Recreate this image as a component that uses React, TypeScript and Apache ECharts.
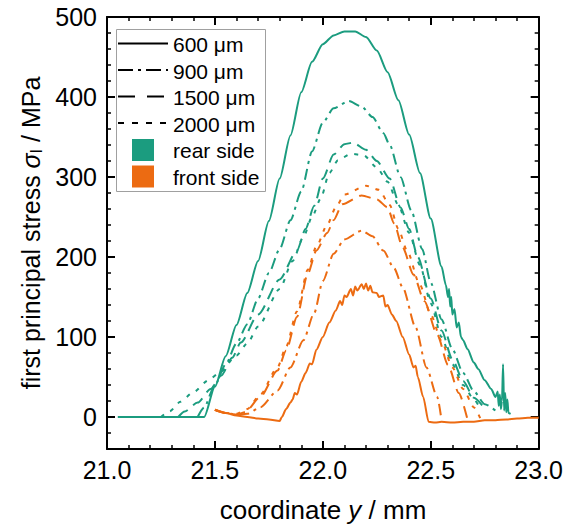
import React, { useEffect, useRef } from "react";
import * as echarts from "echarts";

// ---------- data (coordinate y in mm, first principal stress in MPa) ----------
const xTicks = [21.0, 21.5, 22.0, 22.5, 23.0];
const yMajorTicks = [0, 100, 200, 300, 400, 500];

const rear600: number[][] = [
  [21.05, 0], [21.2, 0], [21.35, 0], [21.45, 0], [21.5, 38], [21.55, 76], [21.6, 115],
  [21.65, 155], [21.7, 195], [21.75, 245], [21.8, 298], [21.85, 352], [21.9, 406],
  [21.95, 444], [22.0, 466], [22.05, 477], [22.1, 482], [22.15, 482], [22.2, 475],
  [22.25, 458], [22.3, 431], [22.35, 396], [22.4, 353], [22.45, 305], [22.5, 248],
  [22.55, 188], [22.57, 165], [22.58, 150], [22.585, 160], [22.59, 138], [22.595, 150],
  [22.6, 128], [22.61, 135], [22.62, 112], [22.63, 118], [22.64, 100], [22.65, 96],
  [22.67, 85], [22.7, 68], [22.72, 60], [22.75, 46], [22.78, 35], [22.8, 25], [22.81, 32],
  [22.815, 14], [22.82, 28], [22.825, 10], [22.83, 20], [22.835, 66], [22.84, 8],
  [22.845, 30], [22.85, 6], [22.855, 22], [22.86, 5], [22.87, 4],
];
const rear900: number[][] = [
  [21.42, 0], [21.45, 12], [21.5, 40], [21.55, 66], [21.6, 92], [21.65, 116], [21.7, 148],
  [21.75, 180], [21.8, 210], [21.85, 246], [21.9, 282], [21.95, 332], [22.0, 368],
  [22.05, 386], [22.12, 395], [22.18, 388], [22.23, 375], [22.28, 355], [22.31, 340],
  [22.36, 300], [22.41, 258], [22.46, 210], [22.5, 168], [22.55, 122], [22.6, 85],
  [22.65, 55], [22.7, 32], [22.75, 16], [22.8, 8],
];
const rear1500: number[][] = [
  [21.33, 0], [21.36, 7], [21.42, 18], [21.48, 35], [21.53, 52], [21.58, 74], [21.62, 93],
  [21.7, 128], [21.8, 172], [21.88, 208], [21.92, 235], [21.96, 264], [22.0, 298],
  [22.05, 328], [22.1, 341], [22.14, 343], [22.2, 334], [22.25, 320], [22.31, 298],
  [22.36, 262], [22.4, 235], [22.44, 200], [22.5, 148], [22.55, 108], [22.6, 72],
  [22.65, 45], [22.7, 24], [22.74, 14],
];
const rear2000: number[][] = [
  [21.25, 0], [21.29, 7], [21.34, 19], [21.4, 31], [21.47, 46], [21.52, 55], [21.6, 77],
  [21.65, 92], [21.7, 113], [21.8, 160], [21.86, 195], [21.91, 225], [21.95, 250],
  [21.99, 273], [22.03, 305], [22.07, 321], [22.13, 329], [22.19, 327], [22.25, 312],
  [22.3, 294], [22.35, 265], [22.4, 230], [22.45, 190], [22.5, 142], [22.55, 100],
  [22.6, 66], [22.65, 40], [22.7, 22], [22.72, 15],
];

const front600: number[][] = [
  [21.5, 9], [21.52, 7], [21.55, 5], [21.6, 2], [21.65, 0], [21.7, -2], [21.75, -3],
  [21.8, -5], [21.81, 0], [21.83, 10], [21.85, 18], [21.86, 22], [21.87, 30], [21.88, 28],
  [21.9, 44], [21.92, 55], [21.94, 67], [21.95, 66], [21.97, 84], [22.0, 100], [22.03, 118],
  [22.06, 133], [22.08, 145], [22.09, 140], [22.1, 152], [22.11, 150], [22.13, 160],
  [22.14, 152], [22.15, 163], [22.16, 158], [22.18, 166], [22.19, 160], [22.2, 167],
  [22.21, 158], [22.22, 164], [22.23, 156], [22.25, 155], [22.26, 150], [22.28, 152],
  [22.29, 138], [22.3, 140], [22.32, 128], [22.34, 120], [22.37, 100], [22.4, 78],
  [22.42, 62], [22.43, 64], [22.44, 50], [22.465, 25], [22.49, -6], [22.52, -7],
  [22.55, -6], [22.6, -7], [22.65, -6], [22.7, -6], [22.75, -4], [22.8, -4], [22.85, -3],
  [22.9, -2], [22.95, -1], [23.0, -1],
];
const front900: number[][] = [
  [21.5, 9], [21.55, 5], [21.6, 3], [21.65, 4], [21.71, 12], [21.79, 33], [21.85, 62],
  [21.91, 96], [21.96, 130], [22.0, 170], [22.05, 204], [22.1, 222], [22.18, 233],
  [22.23, 226], [22.28, 208], [22.33, 186], [22.37, 162], [22.43, 112], [22.48, 62],
  [22.53, 25], [22.55, -4],
];
const front1500: number[][] = [
  [21.5, 9], [21.55, 5], [21.6, 3], [21.64, 6], [21.71, 25], [21.79, 58], [21.83, 83],
  [21.88, 125], [21.93, 179], [21.97, 208], [22.02, 230], [22.05, 246], [22.09, 266],
  [22.18, 277], [22.25, 272], [22.3, 262], [22.33, 242], [22.37, 212], [22.42, 178],
  [22.47, 145], [22.53, 103], [22.58, 65], [22.63, 30], [22.67, -3],
];
const front2000: number[][] = [
  [21.5, 9], [21.55, 5], [21.6, 4], [21.65, 10], [21.71, 28], [21.79, 62], [21.83, 88],
  [21.88, 132], [21.93, 184], [21.97, 213], [22.02, 240], [22.06, 262], [22.1, 278],
  [22.2, 289], [22.26, 284], [22.31, 265], [22.35, 235], [22.39, 208], [22.45, 165],
  [22.5, 128], [22.55, 95], [22.6, 62], [22.65, 35], [22.7, 12], [22.73, -2],
];

const legendLabels = ["600 μm", "900 μm", "1500 μm", "2000 μm"];
const sideLabels = ["rear side", "front side"];

// ---------- styles ----------
const REAR = "#1b9c7f";
const FRONT = "#ec6b12";
const FONT = "'Liberation Sans', Arial, sans-serif";
const DASH_SOLID: any = "solid";
const DASH_DASHDOT = [11, 5, 3, 5];
const DASH_DASHED = [12, 7];
const DASH_DOTTED = [4, 7];
const TICK_FONT = 25;
const NAME_FONT = 26;
const LEGEND_FONT = 21;

const GRID = { left: 107, top: 17, width: 432, height: 432 };

function line(name: string, data: number[][], color: string, dash: any) {
  return {
    name,
    type: "line",
    data,
    xAxisIndex: 0,
    yAxisIndex: 0,
    symbol: "none",
    showSymbol: false,
    smooth: 0.25,
    smoothMonotone: "x",
    lineStyle: { color, width: 2, type: dash },
    z: 3,
  };
}

function baseX(position: "bottom" | "top", labels: boolean) {
  return {
    type: "value",
    position,
    min: xTicks[0],
    max: xTicks[xTicks.length - 1],
    interval: 0.5,
    axisLine: { show: true, onZero: false, lineStyle: { color: "#000", width: 2 } },
    axisTick: { show: true, inside: true, length: 8, lineStyle: { color: "#000", width: 2 } },
    minorTick: { show: true, splitNumber: 5, length: 4, lineStyle: { color: "#000", width: 1.5 } },
    axisLabel: {
      show: labels,
      margin: 8,
      color: "#000",
      fontSize: TICK_FONT,
      fontFamily: FONT,
      formatter: (v: number) => v.toFixed(1),
    },
    splitLine: { show: false },
    minorSplitLine: { show: false },
  };
}

function minorY(position: "left" | "right", labels: boolean) {
  return {
    type: "value",
    position,
    min: -40,
    max: 500,
    interval: 20,
    axisLine: { show: true, onZero: false, lineStyle: { color: "#000", width: 2 } },
    axisTick: { show: true, inside: true, length: 4, lineStyle: { color: "#000", width: 1.5 } },
    axisLabel: {
      show: labels,
      margin: 10,
      color: "#000",
      fontSize: TICK_FONT,
      fontFamily: FONT,
      formatter: (v: number) => (Math.abs(v % 100) < 1e-6 ? String(v) : ""),
    },
    splitLine: { show: false },
  };
}

function majorY(position: "left" | "right") {
  return {
    type: "value",
    position,
    min: -40,
    max: 500,
    axisLine: { show: false },
    axisTick: {
      show: true,
      inside: true,
      length: 8,
      customValues: yMajorTicks,
      lineStyle: { color: "#000", width: 2 },
    },
    axisLabel: { show: false },
    splitLine: { show: false },
  };
}

export default function App() {
  const ref = useRef<HTMLDivElement>(null);

  useEffect(() => {
    if (!ref.current) return;
    const chart = echarts.init(ref.current, undefined, { renderer: "svg" });

    const dashes = [DASH_SOLID, DASH_DASHDOT, DASH_DASHED, DASH_DOTTED];
    const legendDash = [null, [15, 5, 3, 5], [17, 12], [6, 8]];
    const rowY = [44.5, 71, 97.5, 124, 150.5, 177];
    const lx = 116.5, ly = 29.5, lw = 149, lh = 162;

    const graphics: any[] = [
      {
        type: "rect",
        shape: { x: lx, y: ly, width: lw, height: lh },
        style: { fill: "#fff", stroke: "#a0a0a0", lineWidth: 1 },
        z: 10,
      },
    ];
    legendLabels.forEach((t, i) => {
      graphics.push({
        type: "line",
        shape: { x1: 118, y1: rowY[i] - 1, x2: 168, y2: rowY[i] - 1 },
        style: {
          stroke: "#000",
          lineWidth: 2,
          lineDash: legendDash[i] || undefined,
        },
        z: 11,
      });
      graphics.push({
        type: "text",
        x: 173,
        y: rowY[i],
        style: {
          text: t,
          fontSize: LEGEND_FONT,
          fontFamily: FONT,
          fill: "#000",
          verticalAlign: "middle",
          align: "left",
        },
        z: 11,
      });
    });
    sideLabels.forEach((t, i) => {
      graphics.push({
        type: "rect",
        shape: { x: 132, y: rowY[4 + i] - 11.5, width: 22, height: 22 },
        style: { fill: i === 0 ? REAR : FRONT },
        z: 11,
      });
      graphics.push({
        type: "text",
        x: 173,
        y: rowY[4 + i],
        style: {
          text: t,
          fontSize: LEGEND_FONT,
          fontFamily: FONT,
          fill: "#000",
          verticalAlign: "middle",
          align: "left",
        },
        z: 11,
      });
    });
    // axis titles
    graphics.push({
      type: "text",
      x: GRID.left + GRID.width / 2,
      y: 510,
      style: {
        text: "coordinate {i|y} / mm",
        fontSize: NAME_FONT,
        fontFamily: FONT,
        fill: "#000",
        align: "center",
        verticalAlign: "middle",
        rich: {
          i: { fontSize: NAME_FONT, fontFamily: FONT, fontStyle: "italic", fill: "#000" },
        },
      },
    });
    graphics.push({
      type: "text",
      x: 31,
      y: GRID.top + GRID.height / 2,
      rotation: Math.PI / 2,
      style: {
        text: "first principal stress {i|σ}{sub|I} / MPa",
        fontSize: NAME_FONT - 1,
        fontFamily: FONT,
        fill: "#000",
        align: "center",
        verticalAlign: "middle",
        rich: {
          i: { fontSize: NAME_FONT - 1, fontFamily: FONT, fontStyle: "italic", fill: "#000" },
          sub: {
            fontSize: 16,
            fontFamily: FONT,
            fill: "#000",
            verticalAlign: "bottom",
            padding: [10, 0, 0, 0],
          },
        },
      },
    });

    const option: any = {
      animation: false,
      backgroundColor: "#fff",
      grid: { ...GRID, containLabel: false },
      xAxis: [baseX("bottom", true), baseX("top", false)],
      yAxis: [minorY("left", true), majorY("left"), minorY("right", false), majorY("right")],
      series: [
        line("rear 600", rear600, REAR, dashes[0]),
        line("rear 900", rear900, REAR, dashes[1]),
        line("rear 1500", rear1500, REAR, dashes[2]),
        line("rear 2000", rear2000, REAR, dashes[3]),
        line("front 600", front600, FRONT, dashes[0]),
        line("front 900", front900, FRONT, dashes[1]),
        line("front 1500", front1500, FRONT, dashes[2]),
        line("front 2000", front2000, FRONT, dashes[3]),
      ],
      graphic: graphics,
    };
    chart.setOption(option);
    return () => chart.dispose();
  }, []);

  return (
    <div
      ref={ref}
      style={{ position: "fixed", left: 0, top: 0, width: 566, height: 525, background: "#fff" }}
    />
  );
}
